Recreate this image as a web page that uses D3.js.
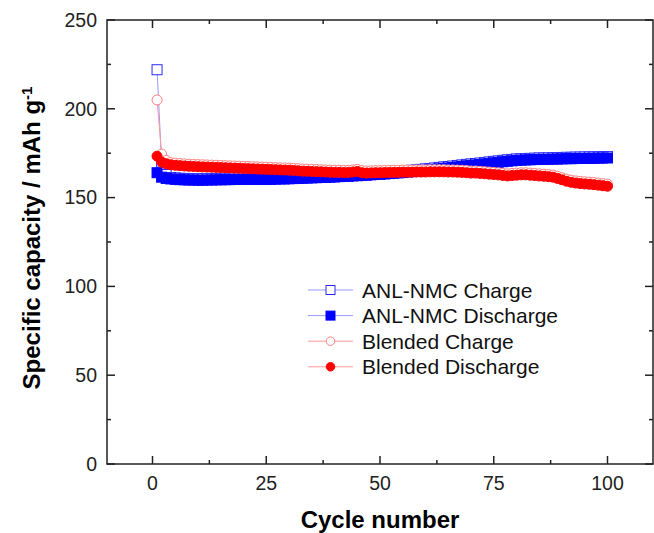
<!DOCTYPE html>
<html>
<head>
<meta charset="utf-8">
<script src="https://cdn.jsdelivr.net/npm/d3@7"></script>
<style>
  body { margin: 0; background: #fff; }
  text { font-family: "Liberation Sans", Arial, sans-serif; }
</style>
</head>
<body>
<div id="chart"></div>
<script>
// cycle numbers 1..100
var cycles = d3.range(1, 101);

var anlCharge = [222.0,170.0,163.0,161.3,161.1,160.9,160.8,160.7,160.7,160.6,
160.6,160.7,160.7,160.8,160.8,160.9,160.9,161.0,161.0,161.0,
161.1,161.1,161.1,161.0,161.0,161.1,161.2,161.3,161.3,161.4,
161.5,161.6,161.7,161.8,161.9,162.0,162.1,162.2,162.3,162.4,
162.6,162.7,162.8,163.0,163.1,163.3,163.4,163.6,163.8,163.9,
164.1,164.3,164.5,164.7,164.9,165.2,165.4,165.6,165.9,166.2,
166.4,166.7,167.0,167.3,167.5,167.8,168.1,168.4,168.7,169.0,
169.2,169.5,169.8,170.1,170.4,170.7,171.0,171.3,171.5,171.8,
171.9,172.0,172.1,172.2,172.3,172.3,172.4,172.5,172.5,172.6,
172.7,172.7,172.8,172.8,172.9,172.9,173.0,173.0,173.1,173.1];

var anlDischarge = [164.0,161.5,160.8,160.5,160.3,160.1,160.0,159.9,159.9,159.8,
159.8,159.9,159.9,160.0,160.0,160.1,160.1,160.2,160.2,160.2,
160.3,160.3,160.3,160.2,160.2,160.3,160.4,160.5,160.5,160.6,
160.7,160.8,160.9,161.0,161.1,161.2,161.3,161.4,161.5,161.6,
161.8,161.9,162.0,162.2,162.3,162.5,162.6,162.8,163.0,163.1,
163.3,163.5,163.7,163.9,164.1,164.4,164.6,164.8,165.1,165.4,
165.6,165.9,166.2,166.5,166.7,167.0,167.3,167.6,167.9,168.2,
168.4,168.7,169.0,169.3,169.6,169.9,170.2,170.5,170.7,171.0,
171.1,171.2,171.3,171.4,171.5,171.5,171.6,171.7,171.7,171.8,
171.9,171.9,172.0,172.0,172.1,172.1,172.2,172.2,172.3,172.3];

var blendCharge = [205.0,174.5,171.0,169.7,169.4,169.2,169.0,168.8,168.7,168.6,
168.5,168.4,168.3,168.2,168.1,168.0,167.9,167.8,167.7,167.6,
167.5,167.4,167.3,167.2,167.1,167.0,166.9,166.8,166.7,166.6,
166.5,166.3,166.1,166.0,165.9,165.8,165.7,165.6,165.5,165.4,
165.4,165.3,165.3,165.6,165.9,165.2,165.0,165.1,165.2,165.2,
165.3,165.3,165.4,165.4,165.5,165.5,165.5,165.6,165.6,165.6,
165.7,165.7,165.7,165.7,165.6,165.6,165.5,165.4,165.2,165.0,
165.0,164.8,164.6,164.4,164.2,164.0,163.7,163.4,163.6,163.8,
164.0,164.0,163.8,163.6,163.4,163.2,163.0,162.7,162.0,161.2,
160.4,159.8,159.4,159.1,158.9,158.7,158.5,158.2,157.9,157.6];

var blendDischarge = [173.3,170.0,169.0,168.5,168.2,168.0,167.8,167.6,167.5,167.4,
167.3,167.2,167.1,167.0,166.9,166.8,166.7,166.6,166.5,166.4,
166.3,166.2,166.1,166.0,165.9,165.8,165.7,165.6,165.5,165.4,
165.3,165.1,164.9,164.8,164.7,164.6,164.5,164.4,164.3,164.2,
164.2,164.1,164.1,164.4,164.7,164.0,163.8,163.9,164.0,164.0,
164.1,164.1,164.2,164.2,164.3,164.3,164.3,164.4,164.4,164.4,
164.5,164.5,164.5,164.5,164.4,164.4,164.3,164.2,164.0,163.8,
163.8,163.6,163.4,163.2,163.0,162.8,162.5,162.2,162.4,162.6,
162.8,162.8,162.6,162.4,162.2,162.0,161.8,161.5,160.8,160.0,
159.2,158.6,158.2,157.9,157.7,157.5,157.3,157.0,156.7,156.4];

var seriesNames = ["ANL-NMC Charge", "ANL-NMC Discharge", "Blended Charge", "Blended Discharge"];
var xTicks = [0, 25, 50, 75, 100];
var yTicks = [0, 50, 100, 150, 200, 250];

var W = 654, H = 533;
var margin = {top: 20, right: 1, bottom: 69, left: 107},
    width = W - margin.left - margin.right,
    height = H - margin.top - margin.bottom;

var x = d3.scaleLinear().domain([-10, 110]).range([0, width]);
var y = d3.scaleLinear().domain([0, 250]).range([height, 0]);

var svg = d3.select("#chart").append("svg")
    .attr("width", W).attr("height", H)
  .append("g")
    .attr("transform", "translate(" + margin.left + "," + margin.top + ")");

// series styles
var styles = [
  {vals: anlCharge, line: "#9999ff", shape: "square", fill: "#fff", stroke: "#2a2aff"},
  {vals: anlDischarge, line: "#9999ff", shape: "square", fill: "#0000ff", stroke: "#0000ff"},
  {vals: blendCharge, line: "#ff9999", shape: "circle", fill: "#fff", stroke: "#ff8080"},
  {vals: blendDischarge, line: "#ff9999", shape: "circle", fill: "#ff0000", stroke: "#ff0000"}
];

var line = d3.line()
    .x(function(d) { return x(d[0]); })
    .y(function(d) { return y(d[1]); });

function drawMarker(g, shape, cx, cy, size, fill, stroke) {
  if (shape == "square") {
    g.append("rect")
      .attr("x", cx - size / 2).attr("y", cy - size / 2)
      .attr("width", size).attr("height", size)
      .attr("fill", fill).attr("stroke", stroke).attr("stroke-width", 1);
  } else {
    g.append("circle")
      .attr("cx", cx).attr("cy", cy).attr("r", size / 2)
      .attr("fill", fill).attr("stroke", stroke).attr("stroke-width", 1);
  }
}

styles.forEach(function(s) {
  var pts = cycles.map(function(c, i) { return [c, s.vals[i]]; });
  svg.append("path")
    .datum(pts)
    .attr("fill", "none")
    .attr("stroke", s.line)
    .attr("stroke-width", 1)
    .attr("d", line);
  var g = svg.append("g");
  pts.forEach(function(p) {
    drawMarker(g, s.shape, x(p[0]), y(p[1]), 10, s.fill, s.stroke);
  });
});

// axes: ticks pointing inward, mirrored on top and right
function minorTicks(step, dom) {
  var out = [];
  for (var v = Math.ceil(dom[0] / step) * step; v <= dom[1]; v += step) out.push(v);
  return out;
}
var xMinor = minorTicks(12.5, x.domain()).filter(function(v) { return v % 25 != 0; });
var yMinor = minorTicks(25, y.domain()).filter(function(v) { return v % 50 != 0; });

var axG = svg.append("g").attr("stroke", "#222").attr("stroke-width", 1.5);
xTicks.forEach(function(v) {
  axG.append("line").attr("x1", x(v)).attr("x2", x(v)).attr("y1", height).attr("y2", height - 8);
  axG.append("line").attr("x1", x(v)).attr("x2", x(v)).attr("y1", 0).attr("y2", 8);
});
xMinor.forEach(function(v) {
  axG.append("line").attr("x1", x(v)).attr("x2", x(v)).attr("y1", height).attr("y2", height - 4);
  axG.append("line").attr("x1", x(v)).attr("x2", x(v)).attr("y1", 0).attr("y2", 4);
});
yTicks.forEach(function(v) {
  axG.append("line").attr("x1", 0).attr("x2", 8).attr("y1", y(v)).attr("y2", y(v));
  axG.append("line").attr("x1", width).attr("x2", width - 8).attr("y1", y(v)).attr("y2", y(v));
});
yMinor.forEach(function(v) {
  axG.append("line").attr("x1", 0).attr("x2", 4).attr("y1", y(v)).attr("y2", y(v));
  axG.append("line").attr("x1", width).attr("x2", width - 4).attr("y1", y(v)).attr("y2", y(v));
});

svg.append("rect")
  .attr("width", width).attr("height", height)
  .attr("fill", "none").attr("stroke", "#222").attr("stroke-width", 1.5);

// tick labels
svg.selectAll(".xl").data(xTicks).enter().append("text")
  .attr("x", function(d) { return x(d); })
  .attr("y", height + 26)
  .attr("text-anchor", "middle")
  .style("font-size", "19.5px")
  .attr("fill", "#222")
  .text(function(d) { return d; });

svg.selectAll(".yl").data(yTicks).enter().append("text")
  .attr("x", -10)
  .attr("y", function(d) { return y(d); })
  .attr("dy", "0.35em")
  .attr("text-anchor", "end")
  .style("font-size", "19.5px")
  .attr("fill", "#222")
  .text(function(d) { return d; });

// axis titles
svg.append("text")
  .attr("x", width / 2)
  .attr("y", height + 64)
  .attr("text-anchor", "middle")
  .style("font-size", "24px")
  .style("font-weight", "bold")
  .text("Cycle number");

var yt = svg.append("text")
  .attr("transform", "translate(" + (-67) + "," + (height / 2 - 4) + ") rotate(-90)")
  .attr("text-anchor", "middle")
  .style("font-size", "24px")
  .style("font-weight", "bold");
yt.append("tspan").text("Specific capacity / mAh g");
yt.append("tspan").attr("dy", "-0.55em").style("font-size", "15px").text("-1");

// legend
var legend = svg.append("g").attr("transform", "translate(" + (308 - margin.left) + "," + (290 - margin.top) + ")");
styles.forEach(function(s, i) {
  var ly = i * 25.6;
  var row = legend.append("g");
  row.append("line").attr("x1", 0).attr("x2", 45).attr("y1", ly).attr("y2", ly)
    .attr("stroke", s.line).attr("stroke-width", 1);
  drawMarker(row, s.shape, 22.5, ly, s.shape == "square" ? 9 : 8.5, s.fill, s.stroke);
  row.append("text")
    .attr("x", 54).attr("y", ly).attr("dy", "0.36em")
    .style("font-size", "21px")
    .attr("fill", "#111")
    .text(seriesNames[i]);
});
</script>
</body>
</html>
